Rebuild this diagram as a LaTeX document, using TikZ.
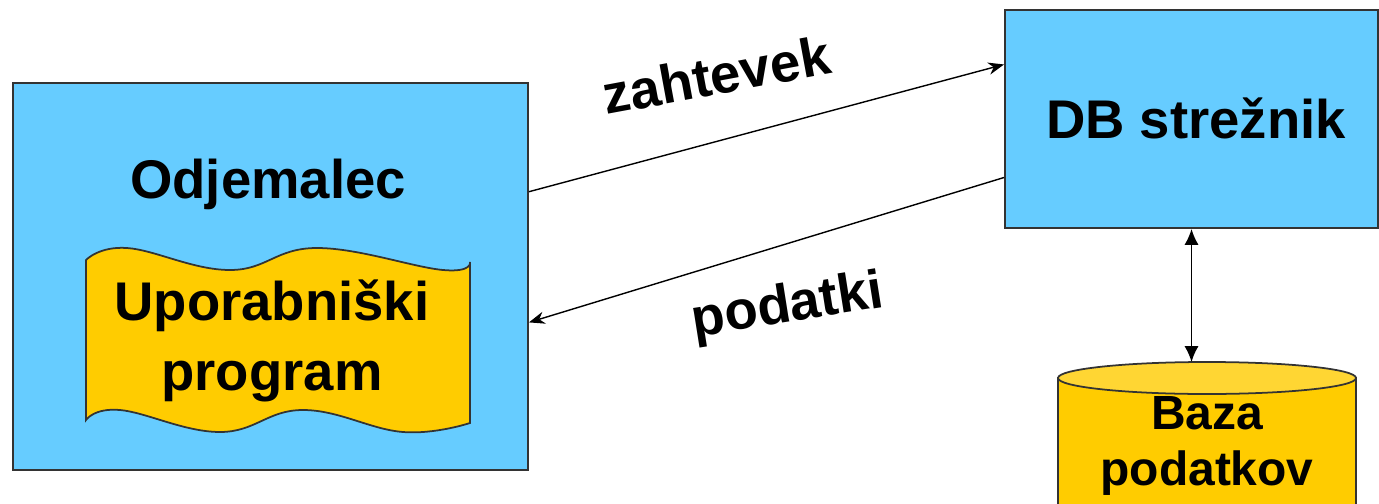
\documentclass[tikz,border=0pt]{standalone}
\usepackage{fontspec}
\setmainfont{Liberation Sans}
\usetikzlibrary{arrows.meta,fit,calc}
\definecolor{boxblue}{RGB}{102,204,255}
\definecolor{dbyellow}{RGB}{255,204,0}
\tikzset{
  box/.style={draw=black!80, line width=1.1pt, fill=boxblue, inner sep=0pt},
  yellowshape/.style={draw=black!80, line width=1pt, fill=dbyellow},
  lbl/.style={font=\fontsize{31}{40}\selectfont\bfseries, inner sep=0pt},
  dblbl/.style={font=\fontsize{27.3}{32.4}\selectfont\bfseries, inner sep=0pt, align=center},
  msg/.style={-{Stealth[length=9pt,width=7pt]}, line width=0.8pt},
  dbl/.style={{Latex[length=9pt,width=8pt]}-{Latex[length=9pt,width=8pt]}, line width=0.9pt},
}

\begin{document}
\begin{tikzpicture}[x=0.2mm,y=-0.2mm]
\clip (0,0) rectangle (1379,503);
\node[box, fit={(13,83) (528,470)}] (odj) {};
\node[box, fit={(1005,10) (1378,228)}] (srv) {};
\draw[yellowshape] plot[smooth, tension=.7] coordinates {(86,260) (127,248) (230,270) (317,248) (443,270) (470,262)}
  -- plot[smooth, tension=.7] coordinates {(470,423) (403,432) (303,410) (220,432) (120,410) (86,420)} -- cycle;
\fill[yellowshape] (1058,378) rectangle (1356,540);
\draw[yellowshape, fill=dbyellow!80!white] (1207,378) ellipse [x radius=149, y radius=16];
\node[lbl, anchor=base] (odjtxt) at (268,198) {Odjemalec};
\node[lbl, align=center] (prog) at (272,341) {Uporabniški\\program};
\node[lbl, anchor=base] (srvtxt) at (1196,138) {DB strežnik};
\node[dblbl] (db) at (1207,446) {Baza\\podatkov};
\coordinate (dbtop) at (1191.5,362);
\draw[msg] ($(odj.north east)!.282!(odj.south east)$) -- ($(srv.north west)!.252!(srv.south west)$);
\draw[msg] ($(srv.north west)!.766!(srv.south west)$) -- ($(odj.north east)!.618!(odj.south east)$);
\draw[dbl] (srv) -- (dbtop);
\node[lbl, rotate=10.5, anchor=base] (req) at (720,94) {zahtevek};
\node[lbl, rotate=9, anchor=base] (data) at (790,322) {podatki};
\end{tikzpicture}
\end{document}
